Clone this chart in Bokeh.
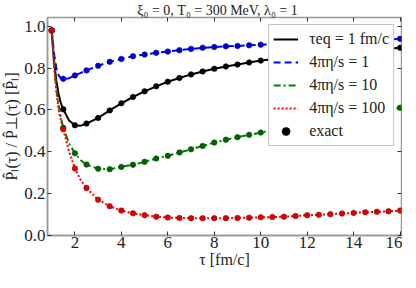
from bokeh.plotting import figure
from bokeh.models import (Range1d, LinearAxis, Legend, LegendItem, FixedTicker,
                          PrintfTickFormatter, CustomJSTickFormatter)
from bokeh.embed import file_html
from bokeh.resources import INLINE

# exact points (tau every 0.5 fm/c)
tau_exact = [1.0, 1.5, 2.0, 2.5, 3.0, 3.5, 4.0, 4.5, 5.0, 5.5, 6.0, 6.5, 7.0, 7.5, 8.0,
             8.5, 9.0, 9.5, 10.0, 10.5, 11.0, 11.5, 12.0, 12.5, 13.0, 13.5, 14.0, 14.5,
             15.0, 15.5, 16.0]
ex_teq1 = [0.98, 0.603, 0.527, 0.535, 0.562, 0.598, 0.632, 0.662, 0.689, 0.713, 0.735,
           0.753, 0.770, 0.784, 0.797, 0.808, 0.817, 0.827, 0.836, 0.843, 0.850, 0.856,
           0.862, 0.867, 0.872, 0.877, 0.881, 0.885, 0.889, 0.893, 0.897]
ex_eta1 = [0.98, 0.749, 0.765, 0.789, 0.811, 0.830, 0.844, 0.857, 0.865, 0.873, 0.879,
           0.886, 0.892, 0.897, 0.901, 0.904, 0.906, 0.909, 0.912, 0.915, 0.918, 0.921,
           0.923, 0.926, 0.928, 0.930, 0.932, 0.934, 0.936, 0.938, 0.940]
ex_eta10 = [0.98, 0.515, 0.393, 0.339, 0.319, 0.317, 0.328, 0.338, 0.352, 0.368, 0.381,
            0.397, 0.412, 0.428, 0.444, 0.458, 0.470, 0.481, 0.492, 0.503, 0.514, 0.525,
            0.535, 0.546, 0.556, 0.566, 0.575, 0.585, 0.594, 0.603, 0.611]
ex_eta100 = [0.98, 0.508, 0.320, 0.227, 0.171, 0.140, 0.119, 0.106, 0.097, 0.090, 0.086,
             0.084, 0.083, 0.083, 0.083, 0.083, 0.084, 0.085, 0.087, 0.088, 0.090, 0.093,
             0.097, 0.099, 0.102, 0.105, 0.108, 0.111, 0.113, 0.116, 0.119]

# approximate curves (denser at early times)
tau_line = [1.0, 1.1, 1.2, 1.3, 1.4, 1.5, 1.75, 2.0, 2.25, 2.5, 3.0, 3.5, 4.0, 4.5, 5.0,
            5.5, 6.0, 6.5, 7.0, 7.5, 8.0, 8.5, 9.0, 9.5, 10.0, 10.5, 11.0, 11.5, 12.0,
            12.5, 13.0, 13.5, 14.0, 14.5, 15.0, 15.5, 16.0]
ln_teq1 = [0.98, 0.84, 0.74, 0.675, 0.63, 0.603, 0.55, 0.527, 0.525, 0.535, 0.562, 0.598,
           0.632, 0.662, 0.689, 0.713, 0.735, 0.753, 0.770, 0.784, 0.797, 0.808, 0.817,
           0.827, 0.836, 0.843, 0.850, 0.856, 0.862, 0.867, 0.872, 0.877, 0.881, 0.885,
           0.889, 0.893, 0.897]
ln_eta1 = [0.98, 0.87, 0.80, 0.765, 0.75, 0.746, 0.752, 0.765, 0.777, 0.789, 0.811, 0.830,
           0.844, 0.857, 0.865, 0.873, 0.879, 0.886, 0.892, 0.897, 0.901, 0.904, 0.906,
           0.909, 0.912, 0.915, 0.918, 0.921, 0.923, 0.926, 0.928, 0.930, 0.932, 0.934,
           0.936, 0.938, 0.940]
ln_eta10 = [0.98, 0.82, 0.70, 0.62, 0.56, 0.515, 0.44, 0.393, 0.36, 0.339, 0.319, 0.317,
            0.328, 0.338, 0.352, 0.368, 0.381, 0.397, 0.412, 0.428, 0.444, 0.458, 0.470,
            0.481, 0.492, 0.503, 0.514, 0.525, 0.535, 0.546, 0.556, 0.566, 0.575, 0.585,
            0.594, 0.603, 0.611]
ln_eta100 = [0.98, 0.81, 0.69, 0.60, 0.55, 0.508, 0.40, 0.320, 0.265, 0.227, 0.171, 0.140,
             0.119, 0.106, 0.097, 0.090, 0.086, 0.084, 0.083, 0.083, 0.083, 0.083, 0.084,
             0.085, 0.087, 0.088, 0.090, 0.093, 0.097, 0.099, 0.102, 0.105, 0.108, 0.111,
             0.113, 0.116, 0.119]

labels = ["τeq = 1 fm/c", "4πη/s = 1", "4πη/s = 10", "4πη/s = 100", "exact"]
x_ticks = [2, 4, 6, 8, 10, 12, 14, 16]
y_ticks = [0.0, 0.2, 0.4, 0.6, 0.8, 1.0]

FONT = "Liberation Serif"
AX = "#999999"

p = figure(frame_width=354, frame_height=218, output_backend="svg", toolbar_location=None,
           x_range=Range1d(0.82, 16.06), y_range=Range1d(0, 1.042),
           min_border_left=45, min_border_right=1, min_border_top=15, min_border_bottom=36,
           title="ξ₀ = 0,   T₀ = 300 MeV,   λ₀ = 1")
p.title.text_font = FONT
p.title.text_font_size = "14px"
p.title.text_font_style = "normal"
p.title.text_color = "#222222"
p.title.align = "center"
p.title.offset = 0
p.title.standoff = 0
p.grid.visible = False
p.outline_line_color = AX
p.outline_line_width = 1.5
p.background_fill_color = "white"

for ax in (p.xaxis[0], p.yaxis[0]):
    ax.axis_line_color = AX
    ax.axis_line_width = 1.5
    ax.major_tick_in = 4
    ax.major_tick_out = 0
    ax.minor_tick_line_color = None
    ax.major_tick_line_color = "#333333"
    ax.major_label_text_font = FONT
    ax.major_label_text_font_size = "17px"
    ax.major_label_text_color = "#222222"
    ax.axis_label_text_font = FONT
    ax.axis_label_text_font_size = "16px"
    ax.axis_label_text_font_style = "normal"
    ax.axis_label_text_color = "#222222"
    ax.major_label_standoff = 2
    ax.axis_label_standoff = 1
p.xaxis[0].major_label_standoff = 1
p.xaxis[0].axis_label_standoff = 0
p.xaxis[0].ticker = FixedTicker(ticks=x_ticks)
p.yaxis[0].ticker = FixedTicker(ticks=y_ticks)
p.yaxis[0].formatter = PrintfTickFormatter(format="%.1f")
p.xaxis[0].axis_label = "τ [fm/c]"
p.yaxis[0].axis_label = "P̂ₗ(τ) / P̂⊥(τ) [P̂ₗ]"

for loc, tk in (("right", y_ticks), ("above", x_ticks)):
    ax = LinearAxis(ticker=FixedTicker(ticks=tk),
                    formatter=CustomJSTickFormatter(code="return ''"))
    ax.axis_line_color = None
    ax.major_tick_in = 4
    ax.major_tick_out = 0
    ax.minor_tick_line_color = None
    ax.major_tick_line_color = "#333333"
    ax.major_label_standoff = 0
    p.add_layout(ax, loc)

series = [
    (ln_teq1, ex_teq1, "black", "black", "solid", "#000000"),
    (ln_eta1, ex_eta1, "#0000ff", "#0000cc", "7 4", "#0000aa"),
    (ln_eta10, ex_eta10, "#008000", "#006400", "7 3 2 3", "#004d00"),
    (ln_eta100, ex_eta100, "#ff0000", "#dd0000", "2 2", "#990000"),
]
line_r = []
dot_r = []
for ln, ex, col, dcol, dash, ecol in series:
    r = p.line(tau_line, ln, line_color=col, line_width=2, line_dash=dash)
    line_r.append(r)
for ln, ex, col, dcol, dash, ecol in series:
    d = p.scatter(tau_exact, ex, size=5.5, fill_color=dcol, line_color=ecol, line_width=0.6)
    dot_r.append(d)

items = [LegendItem(label=labels[i], renderers=[line_r[i]]) for i in range(4)]
items.append(LegendItem(label=labels[4], renderers=[dot_r[0]]))
leg = Legend(items=items, location="top_right")
leg.label_text_font = FONT
leg.label_text_font_size = "16px"
leg.label_text_color = "#222222"
leg.glyph_width = 25
leg.glyph_height = 20
leg.label_height = 20
leg.spacing = 3
leg.padding = 4
leg.margin = 7
leg.label_standoff = 11
leg.border_line_color = "#888888"
leg.border_line_width = 1
leg.background_fill_color = "white"
leg.background_fill_alpha = 1
p.add_layout(leg)

open("out.html", "w").write(file_html(p, INLINE))
